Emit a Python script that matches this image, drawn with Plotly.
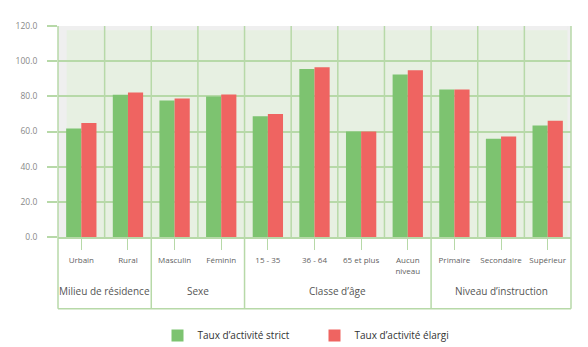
import plotly.graph_objects as go

# Categories grouped by breakdown variable
groups = ["Milieu de résidence", "Sexe", "Classe d’âge", "Niveau d’instruction"]
group_members = [
    ["Urbain", "Rural"],
    ["Masculin", "Féminin"],
    ["15 - 35", "36 - 64", "65 et plus", "Aucun<br>niveau"],
    ["Primaire", "Secondaire", "Supérieur"],
]
categories = [c for members in group_members for c in members]

# Activity rates (%)
taux_strict = [61.7, 80.9, 77.6, 79.9, 68.7, 95.5, 60.0, 92.4, 83.9, 55.9, 63.4]
taux_elargi = [64.8, 82.2, 78.8, 81.0, 69.9, 96.6, 60.0, 94.9, 83.9, 57.2, 66.1]

y_ticks = [0, 20, 40, 60, 80, 100, 120]

GREEN = "#7dc370"
RED = "#ef6461"
GRID = "#b7d9a8"
PLOT_BG = "#e7f0e2"
FONT = "Open Sans"

fig = go.Figure()
fig.add_trace(go.Bar(name="Taux d’activité strict", x=categories, y=taux_strict,
                     marker=dict(color=GREEN, line=dict(width=0))))
fig.add_trace(go.Bar(name="Taux d’activité élargi", x=categories, y=taux_elargi,
                     marker=dict(color=RED, line=dict(width=0))))

shapes = []
# grey page strips around the white panel
for x0, x1, y0, y1 in [(0, 1, 0.98, 1), (0, 0.017, 0, 1), (0.993, 1, 0, 1)]:
    shapes.append(dict(type="rect", xref="paper", yref="paper", x0=x0, x1=x1, y0=y0, y1=y1,
                       fillcolor="#efefef", line=dict(width=0), layer="below"))

# vertical gridlines between categories; group separators run down through the labels
n = len(categories)
boundaries = []
pos = 0
for members in group_members:
    pos += len(members)
    boundaries.append(pos - 0.5)
for i in range(n - 1):
    b = i + 0.5
    is_group = b in boundaries
    shapes.append(dict(type="line", xref="x", yref="y domain", x0=b, x1=b,
                       y0=-0.34 if is_group else 0, y1=1,
                       line=dict(color=GRID, width=1.5), layer="below"))
# frame around plot and label area
shapes.append(dict(type="line", xref="x domain", yref="y domain", x0=0, x1=0, y0=-0.34, y1=1,
                   line=dict(color=GRID, width=1.5), layer="below"))
shapes.append(dict(type="line", xref="x domain", yref="y domain", x0=1, x1=1, y0=-0.34, y1=1,
                   line=dict(color=GRID, width=1.5), layer="below"))
shapes.append(dict(type="line", xref="x domain", yref="y domain", x0=0, x1=1, y0=-0.34, y1=-0.34,
                   line=dict(color=GRID, width=1.5), layer="below"))

# group labels centred under their categories
annotations = []
start = 0
for g, members in zip(groups, group_members):
    center = start + (len(members) - 1) / 2
    annotations.append(dict(x=center, xref="x", y=-0.255, yref="y domain", text=g,
                            showarrow=False, xanchor="center", yanchor="middle",
                            font=dict(family=FONT, size=10, color="#555555")))
    start += len(members)

fig.update_layout(
    width=588, height=347,
    margin=dict(l=58, r=17, t=26, b=110, autoexpand=False),
    paper_bgcolor="white",
    plot_bgcolor=PLOT_BG,
    barmode="group",
    bargap=0.35,
    bargroupgap=0,
    shapes=shapes,
    annotations=annotations,
    showlegend=True,
    legend=dict(orientation="h", x=0.5, xanchor="center", y=-0.467, yanchor="middle",
                font=dict(family=FONT, size=10, color="#333333"),
                itemwidth=30, entrywidth=112, entrywidthmode="pixels",
                bgcolor="rgba(0,0,0,0)"),
    font=dict(family=FONT),
)

fig.update_xaxes(
    categoryorder="array", categoryarray=categories,
    range=[-0.5, n - 0.5], automargin=False,
    showgrid=False, zeroline=False,
    showline=True, linecolor=GRID, linewidth=1.5,
    ticks="outside", ticklen=11, tickcolor=GRID, tickwidth=1.2,
    ticklabelstandoff=4,
    tickfont=dict(family=FONT, size=8, color="#5f5f5f"),
    tickangle=0,
)
fig.update_yaxes(
    range=[0, 120], automargin=False,
    tickvals=y_ticks, tickformat=".1f",
    showgrid=True, gridcolor=GRID, gridwidth=1.5,
    zeroline=False, showline=False,
    ticks="outside", ticklen=10, tickcolor=GRID, tickwidth=1.5,
    ticklabelstandoff=8,
    tickfont=dict(family=FONT, size=8.5, color="#888888"),
)

fig.write_html("out.html")
